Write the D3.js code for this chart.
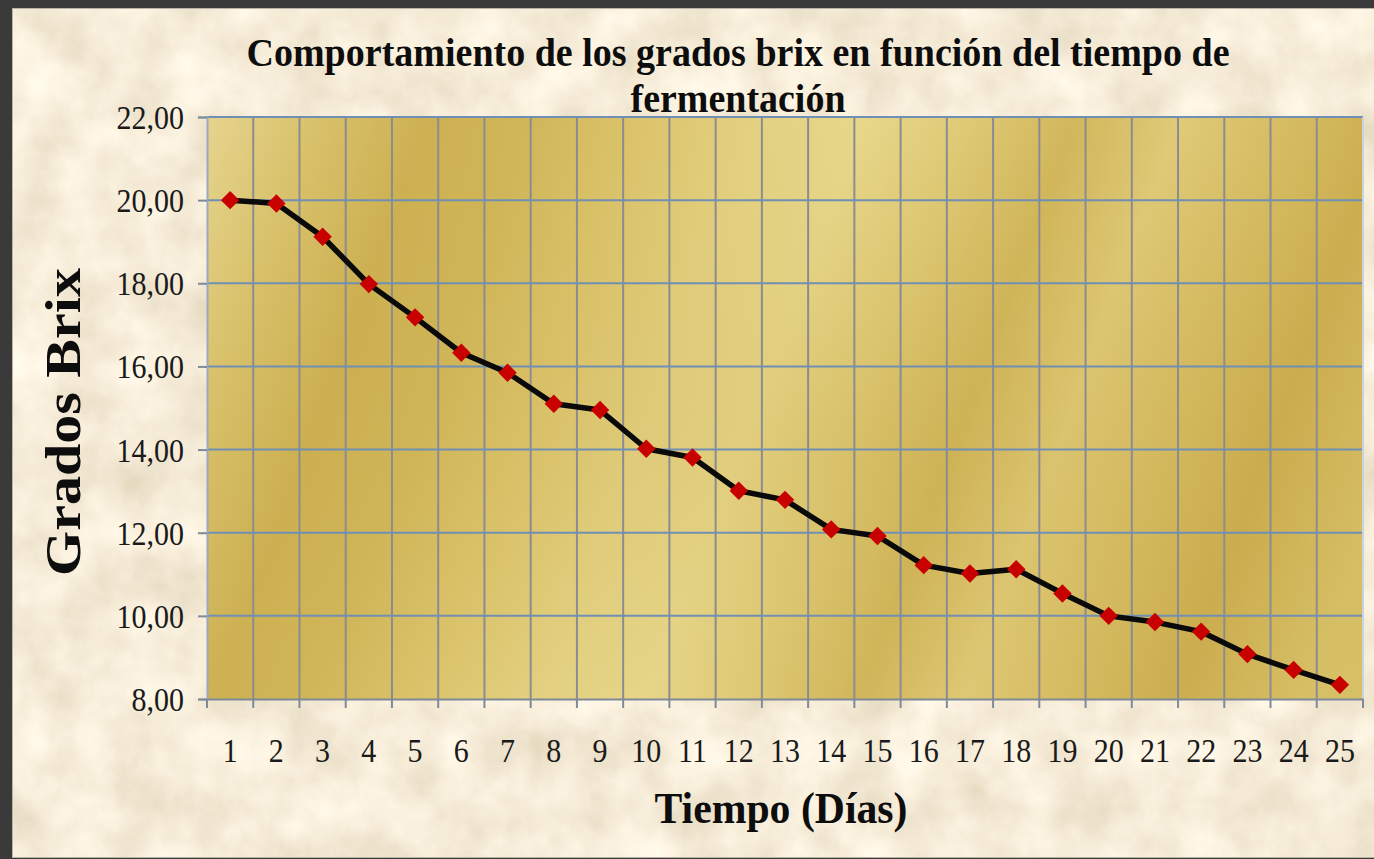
<!DOCTYPE html>
<html>
<head>
<meta charset="utf-8">
<script src="https://cdn.jsdelivr.net/npm/d3@7"></script>
<style>
  html, body { margin: 0; padding: 0; background: #3a3a3a; }
  svg { display: block; }
</style>
</head>
<body>
<div id="viz"></div>
<script>
const WIDTH = 1374;
const HEIGHT = 859;

// data
const days = d3.range(1, 26);
const brix = [20.00, 19.92, 19.12, 17.98, 17.18, 16.33, 15.85, 15.10, 14.95, 14.02,
              13.81, 13.01, 12.79, 12.08, 11.92, 11.22, 11.02, 11.12, 10.54, 10.00,
              9.85, 9.62, 9.08, 8.70, 8.34];
const yTicks = [8, 10, 12, 14, 16, 18, 20, 22];
const titleLines = ['Comportamiento de los grados brix en función del tiempo de', 'fermentación'];
const xTitle = 'Tiempo (Días)';
const yTitle = 'Grados  Brix';

const PLOT = { left: 207, right: 1363, top: 117, bottom: 699 };
const FONT = '"Liberation Serif", "Times New Roman", serif';

const svg = d3.select('#viz').append('svg')
  .attr('width', WIDTH)
  .attr('height', HEIGHT);

const defs = svg.append('defs');

// parchment texture
const paper = defs.append('filter').attr('id', 'paper')
  .attr('x', 0).attr('y', 0).attr('width', '100%').attr('height', '100%');
paper.append('feTurbulence')
  .attr('type', 'fractalNoise')
  .attr('baseFrequency', 0.018)
  .attr('numOctaves', 6)
  .attr('seed', 3)
  .attr('result', 'noise');
paper.append('feColorMatrix')
  .attr('in', 'noise')
  .attr('type', 'matrix')
  .attr('values', '0.32 0 0 0 0.76  0.34 0 0 0 0.67  0.4 0 0 0 0.49  0 0 0 0 1');

// gold fill of the plot area
const gold = defs.append('linearGradient').attr('id', 'gold')
  .attr('gradientUnits', 'userSpaceOnUse')
  .attr('x1', PLOT.left).attr('y1', PLOT.top)
  .attr('x2', PLOT.right).attr('y2', PLOT.bottom - 150);
[[0, '#e6d48e'], [0.08, '#d9c26c'], [0.17, '#cdb052'], [0.25, '#d1b75a'],
 [0.33, '#dcc46c'], [0.42, '#e4d283'], [0.5, '#e8d88c'], [0.58, '#dfca76'],
 [0.66, '#d2b75c'], [0.74, '#e0ca78'], [0.82, '#d6bc62'], [0.9, '#ccae50'], [1, '#d7bf66']]
  .forEach(([o, c]) => gold.append('stop').attr('offset', o).attr('stop-color', c));

const shade = defs.append('radialGradient').attr('id', 'shade')
  .attr('cx', 0.55).attr('cy', 0.55).attr('r', 0.6);
shade.append('stop').attr('offset', 0).attr('stop-color', '#b8962e').attr('stop-opacity', 0.18);
shade.append('stop').attr('offset', 1).attr('stop-color', '#b8962e').attr('stop-opacity', 0);

// frame + background
svg.append('rect')
  .attr('x', 12).attr('y', 8)
  .attr('width', WIDTH - 12).attr('height', HEIGHT - 9)
  .attr('filter', 'url(#paper)');
svg.append('rect')
  .attr('x', 12.5).attr('y', 8.5)
  .attr('width', WIDTH - 12).attr('height', HEIGHT - 10)
  .attr('fill', 'none')
  .attr('stroke', '#b9b4a8');

// scales
const x = d3.scaleBand()
  .domain(days)
  .range([PLOT.left, PLOT.right])
  .padding(0);

const y = d3.scaleLinear()
  .domain([8, 22])
  .range([PLOT.bottom, PLOT.top]);

const comma = d3.formatLocale({ decimal: ',', thousands: '.', grouping: [3], currency: ['', ''] }).format('.2f');

// plot area
svg.append('rect')
  .attr('x', PLOT.left).attr('y', PLOT.top)
  .attr('width', PLOT.right - PLOT.left).attr('height', PLOT.bottom - PLOT.top)
  .attr('fill', 'url(#gold)');
svg.append('rect')
  .attr('x', PLOT.left).attr('y', PLOT.top)
  .attr('width', PLOT.right - PLOT.left).attr('height', PLOT.bottom - PLOT.top)
  .attr('fill', 'url(#shade)');

// vertical grid at category boundaries
const edges = days.map(d => x(d)).concat([x.range()[1]]);
svg.append('g').attr('class', 'vgrid')
  .selectAll('line')
  .data(edges.slice(1, -1))
  .join('line')
    .attr('x1', d => d).attr('x2', d => d)
    .attr('y1', PLOT.top).attr('y2', PLOT.bottom)
    .attr('stroke', '#8c8c90')
    .attr('stroke-width', 2);

// horizontal grid
svg.append('g').attr('class', 'hgrid')
  .selectAll('line')
  .data(yTicks.slice(1))
  .join('line')
    .attr('x1', PLOT.left).attr('x2', PLOT.right)
    .attr('y1', d => y(d)).attr('y2', d => y(d))
    .attr('stroke', '#6f90b4')
    .attr('stroke-width', 2);

// plot border (right side light)
svg.append('line')
  .attr('x1', PLOT.right).attr('x2', PLOT.right)
  .attr('y1', PLOT.top).attr('y2', PLOT.bottom)
  .attr('stroke', '#c9d3e0').attr('stroke-width', 2);

// y axis
const yAxis = svg.append('g')
  .attr('transform', `translate(${PLOT.left}, 0)`)
  .call(d3.axisLeft(y).tickValues(yTicks).tickFormat(comma).tickSize(9).tickPadding(14));
yAxis.select('.domain').attr('stroke', '#9aa8c0').attr('stroke-width', 2);
yAxis.selectAll('.tick line').attr('stroke', '#7f8a99').attr('stroke-width', 2);
yAxis.selectAll('.tick text')
  .attr('font-family', FONT)
  .attr('font-size', 30)
  .attr('fill', '#1a1a1a')
  .attr('dy', '0.34em')
  .attr('transform', 'scale(1, 1.12)');

// x axis: labels centred, tick marks at boundaries
const xAxis = svg.append('g')
  .attr('transform', `translate(0, ${PLOT.bottom})`)
  .call(d3.axisBottom(x).tickSize(0).tickPadding(35).tickSizeOuter(0));
xAxis.select('.domain').attr('stroke', '#7f8a99').attr('stroke-width', 2);
xAxis.selectAll('.tick text')
  .attr('font-family', FONT)
  .attr('font-size', 30)
  .attr('fill', '#1a1a1a')
  .attr('transform', 'scale(1, 1.12)');
xAxis.selectAll('line.edge')
  .data(edges)
  .join('line')
    .attr('class', 'edge')
    .attr('x1', d => d).attr('x2', d => d)
    .attr('y1', 0).attr('y2', 9)
    .attr('stroke', '#7f8a99')
    .attr('stroke-width', 2);

// series
const line = d3.line()
  .x((d, i) => x(days[i]) + x.bandwidth() / 2)
  .y(d => y(d));

svg.append('path')
  .datum(brix)
  .attr('d', line)
  .attr('fill', 'none')
  .attr('stroke', '#0a0a0a')
  .attr('stroke-width', 5.5)
  .attr('stroke-linejoin', 'round');

svg.append('g').attr('class', 'markers')
  .selectAll('path')
  .data(brix)
  .join('path')
    .attr('d', d3.symbol(d3.symbolSquare, 170))
    .attr('transform', (d, i) => `translate(${x(days[i]) + x.bandwidth() / 2}, ${y(d)}) rotate(45)`)
    .attr('fill', '#c80000');

// titles
const title = svg.append('text')
  .attr('font-family', FONT)
  .attr('font-weight', 'bold')
  .attr('font-size', 40)
  .attr('fill', '#0d0d0d')
  .attr('text-anchor', 'middle');
title.selectAll('tspan')
  .data(titleLines)
  .join('tspan')
    .attr('x', 738)
    .attr('y', (d, i) => i === 0 ? 66 : 112)
    .attr('textLength', (d, i) => i === 0 ? 983 : 215)
    .attr('lengthAdjust', 'spacingAndGlyphs')
    .text(d => d);

svg.append('text')
  .attr('x', 781)
  .attr('y', 823)
  .attr('text-anchor', 'middle')
  .attr('font-family', FONT)
  .attr('font-weight', 'bold')
  .attr('font-size', 45)
  .attr('fill', '#0d0d0d')
  .attr('textLength', 253)
  .attr('lengthAdjust', 'spacingAndGlyphs')
  .text(xTitle);

svg.append('text')
  .attr('transform', 'translate(80, 422) rotate(-90)')
  .attr('text-anchor', 'middle')
  .attr('font-family', FONT)
  .attr('font-weight', 'bold')
  .attr('font-size', 51)
  .attr('fill', '#0d0d0d')
  .attr('textLength', 308)
  .attr('lengthAdjust', 'spacingAndGlyphs')
  .text(yTitle);
</script>
</body>
</html>
